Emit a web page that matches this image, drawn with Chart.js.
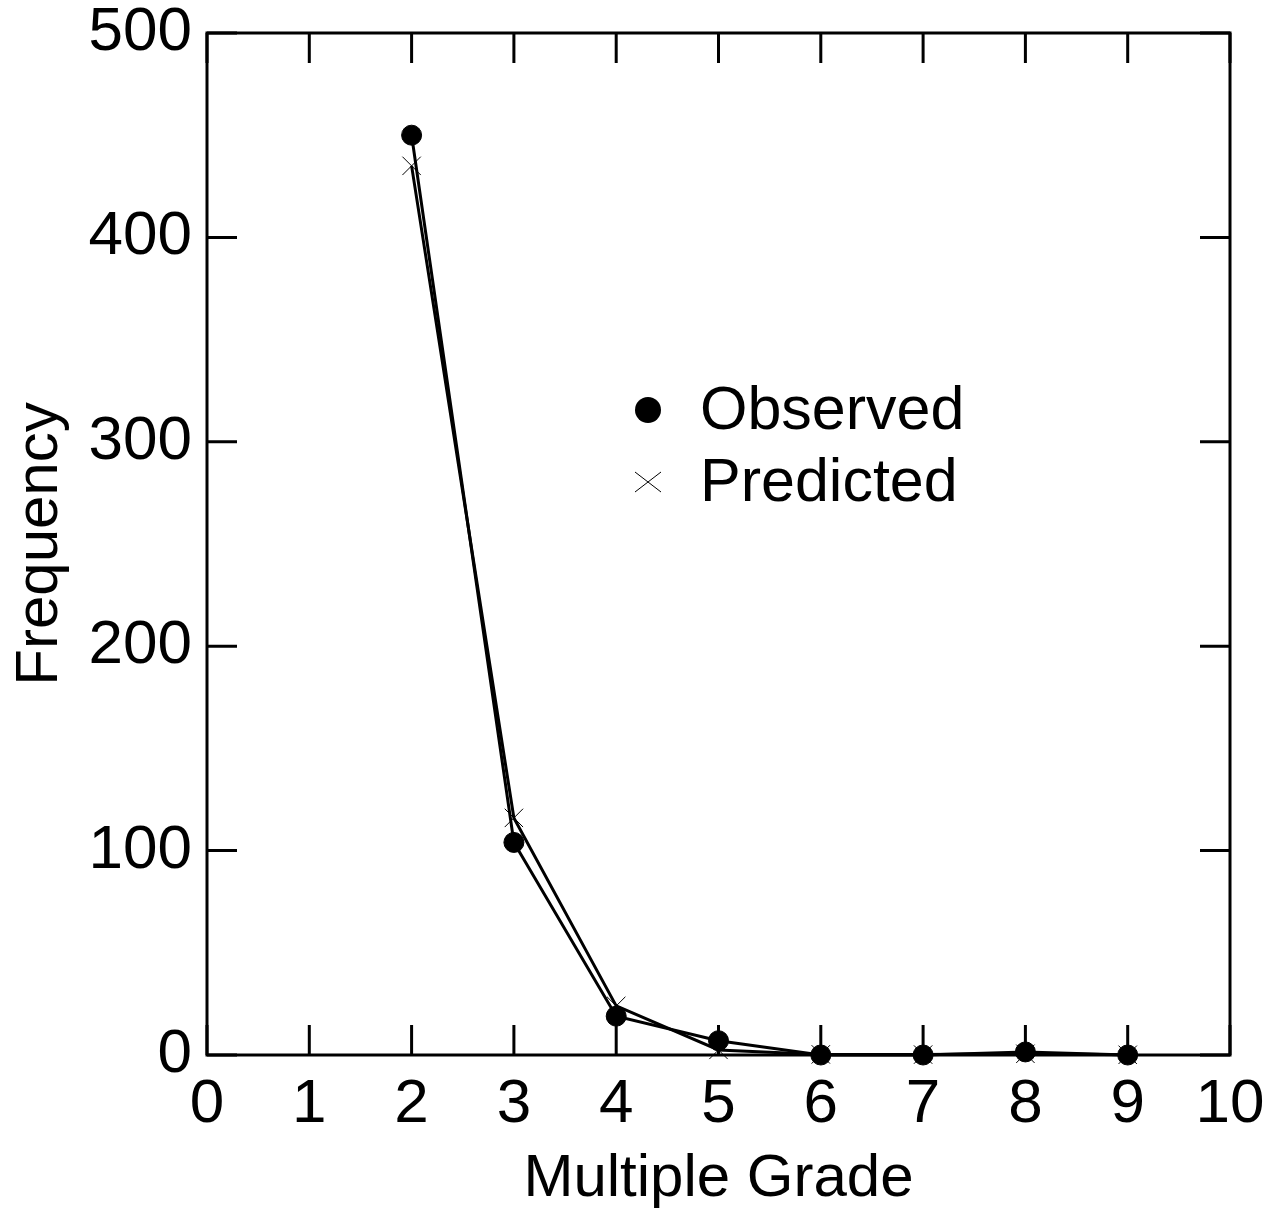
<!DOCTYPE html>
<html>
<head>
<meta charset="utf-8">
<script src="https://cdn.jsdelivr.net/npm/chart.js@4/dist/chart.umd.min.js"></script>
<style>
  html, body { margin: 0; padding: 0; background: #fff; }
  #wrap { width: 1266px; height: 1215px; }
</style>
</head>
<body>
<div id="wrap"><canvas id="chart" width="1266" height="1215"></canvas></div>
<script>
// Data
const grades = [2, 3, 4, 5, 6, 7, 8, 9];
const observed = [450, 104, 19, 7, 0, 0, 1.5, 0];
const predicted = [435, 116, 24, 2.5, 0.3, 0.2, 0.6, 0.1];
const xTicks = [0, 1, 2, 3, 4, 5, 6, 7, 8, 9, 10];
const yTicks = [0, 100, 200, 300, 400, 500];

const FONT = "'Liberation Sans', Arial, sans-serif";

// frame + inward ticks on all four sides
const framePlugin = {
    id: 'frame',
    afterDraw(chart) {
        const { ctx, chartArea: a, scales } = chart;
        const len = 30;
        ctx.save();
        ctx.strokeStyle = '#000';
        ctx.lineWidth = 3;
        ctx.strokeRect(a.left, a.top, a.right - a.left, a.bottom - a.top);
        ctx.beginPath();
        xTicks.forEach(v => {
            const px = scales.x.getPixelForValue(v);
            ctx.moveTo(px, a.bottom); ctx.lineTo(px, a.bottom - len);
            ctx.moveTo(px, a.top); ctx.lineTo(px, a.top + len);
        });
        yTicks.forEach(v => {
            const py = scales.y.getPixelForValue(v);
            ctx.moveTo(a.left, py); ctx.lineTo(a.left + len, py);
            ctx.moveTo(a.right, py); ctx.lineTo(a.right - len, py);
        });
        ctx.stroke();
        ctx.restore();
    }
};

// legend drawn inside the plot area
const insideLegend = {
    id: 'insideLegend',
    afterDraw(chart) {
        const { ctx, chartArea: a } = chart;
        const mx = a.left + 441;
        const rows = [a.top + 377, a.top + 449];
        ctx.save();
        ctx.fillStyle = '#000';
        ctx.strokeStyle = '#000';
        ctx.font = '61px ' + FONT;
        ctx.textBaseline = 'middle';
        chart.data.datasets.forEach((ds, i) => {
            const y = rows[i];
            if (ds.pointStyle === 'circle') {
                ctx.beginPath();
                ctx.arc(mx, y, 13, 0, Math.PI * 2);
                ctx.fill();
            } else {
                ctx.lineWidth = 1;
                ctx.beginPath();
                ctx.moveTo(mx - 13, y - 10); ctx.lineTo(mx + 13, y + 10);
                ctx.moveTo(mx - 13, y + 10); ctx.lineTo(mx + 13, y - 10);
                ctx.stroke();
            }
            ctx.fillText(ds.label, mx + 52, y + 2);
        });
        ctx.restore();
    }
};

// keep label overflow from pushing the plot area in
const noOverflow = s => { s.paddingTop = 0; s.paddingBottom = 0; s.paddingLeft = 0; s.paddingRight = 0; };

new Chart(document.getElementById('chart'), {
    type: 'scatter',
    data: {
        datasets: [
            {
                label: 'Observed',
                data: grades.map((g, i) => ({ x: g, y: observed[i] })),
                showLine: true,
                borderColor: '#000',
                borderWidth: 3,
                pointStyle: 'circle',
                pointRadius: 10,
                pointBackgroundColor: '#000',
                pointBorderColor: '#000',
                pointBorderWidth: 1,
                clip: false
            },
            {
                label: 'Predicted',
                data: grades.map((g, i) => ({ x: g, y: predicted[i] })),
                showLine: true,
                borderColor: '#000',
                borderWidth: 3,
                pointStyle: 'crossRot',
                pointRadius: 13,
                pointBorderColor: '#000',
                pointBorderWidth: 1,
                clip: false
            }
        ]
    },
    options: {
        responsive: false,
        animation: false,
        layout: { padding: { top: 33, right: 36, left: 0, bottom: 0 } },
        plugins: { legend: { display: false }, tooltip: { enabled: false } },
        scales: {
            x: {
                type: 'linear',
                min: 0, max: 10,
                afterFit: s => { s.height = 160; noOverflow(s); },
                afterBuildTicks: s => { s.ticks = xTicks.map(v => ({ value: v })); },
                grid: { drawOnChartArea: false, drawTicks: false },
                border: { display: false },
                ticks: { color: '#000', font: { family: FONT, size: 62 }, padding: 13, maxRotation: 0 },
                title: { display: true, text: 'Multiple Grade', color: '#000', font: { family: FONT, size: 60, lineHeight: 1 }, padding: { top: 0, bottom: 6 } }
            },
            y: {
                type: 'linear',
                min: 0, max: 500,
                afterFit: s => { s.width = 207; noOverflow(s); },
                afterBuildTicks: s => { s.ticks = yTicks.map(v => ({ value: v })); },
                grid: { drawOnChartArea: false, drawTicks: false },
                border: { display: false },
                ticks: { color: '#000', font: { family: FONT, size: 62 }, padding: 15 },
                title: { display: true, text: 'Frequency', color: '#000', font: { family: FONT, size: 60, lineHeight: 1 }, padding: { top: 10, bottom: 0 } }
            }
        }
    },
    plugins: [framePlugin, insideLegend]
});
</script>
</body>
</html>
